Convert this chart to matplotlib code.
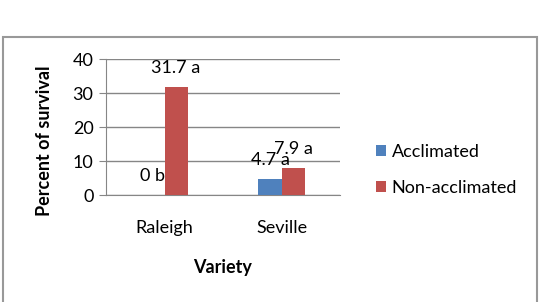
import matplotlib
matplotlib.use('Agg')
import matplotlib.pyplot as plt
from matplotlib.patches import Rectangle

plt.rcParams['font.family'] = ['Lato', 'DejaVu Sans']

varieties = ['Raleigh', 'Seville']
acclimated = [0, 4.7]
non_acclimated = [31.7, 7.9]
lab_acc = ['0 b', '4.7 a']
lab_non = ['31.7 a', '7.9 a']

blue = '#4F81BD'
red = '#C0504D'
grid_c = '#868686'
fs = 13

fig = plt.figure(figsize=(5.46, 3.02), dpi=100)
fig.patches.append(Rectangle((3 / 546, -0.1), 534 / 546, 0.1 + 265 / 302,
                             transform=fig.transFigure, fill=False,
                             edgecolor='#999999', linewidth=1.5))

ax = fig.add_axes([106 / 546, 107 / 302, 234 / 546, 136 / 302])
bw = 0.197
x = range(len(varieties))
xa = [i - bw / 2 for i in x]
xn = [i + bw / 2 for i in x]
b1 = ax.bar(xa, acclimated, bw, color=blue, label='Acclimated', zorder=3)
b2 = ax.bar(xn, non_acclimated, bw, color=red, label='Non-acclimated', zorder=3)

# data labels (the two Seville labels overlap in the original too)
for xi, v, t in zip(xa, acclimated, lab_acc):
    ax.annotate(t, (xi, v), xytext=(0, 13.5), textcoords='offset points',
                ha='center', va='center', fontsize=fs, zorder=4)
for xi, v, t in zip(xn, non_acclimated, lab_non):
    ax.annotate(t, (xi, v), xytext=(0, 14), textcoords='offset points',
                ha='center', va='center', fontsize=fs, zorder=4)

ax.set_xlim(-0.5, 1.5)
ax.set_ylim(0, 40)
ax.set_yticks([0, 10, 20, 30, 40])
ax.set_xticks(list(x))
ax.set_xticklabels(varieties)
ax.yaxis.grid(True, color=grid_c, linewidth=1)
for s in ['top', 'right']:
    ax.spines[s].set_visible(False)
ax.spines['left'].set_color(grid_c)
ax.spines['bottom'].set_color(grid_c)
ax.tick_params(axis='y', length=5, color=grid_c, labelsize=fs, pad=4)
ax.tick_params(axis='x', length=0, labelsize=fs, pad=18)

fig.text(45 / 546, 1 - 141 / 302, 'Percent of survival', rotation=90,
         ha='center', va='center', fontsize=fs, fontweight='bold')
fig.text(223 / 546, 1 - 268 / 302, 'Variety', ha='center', va='center',
         fontsize=fs, fontweight='bold')

fig.legend(handles=[b1, b2], loc='center left',
           bbox_to_anchor=(360 / 546, 1 - 170 / 302), frameon=False,
           fontsize=fs, handlelength=0.55, handleheight=0.55,
           handletextpad=0.3, labelspacing=1.1)

fig.savefig('out.png', dpi=100)
